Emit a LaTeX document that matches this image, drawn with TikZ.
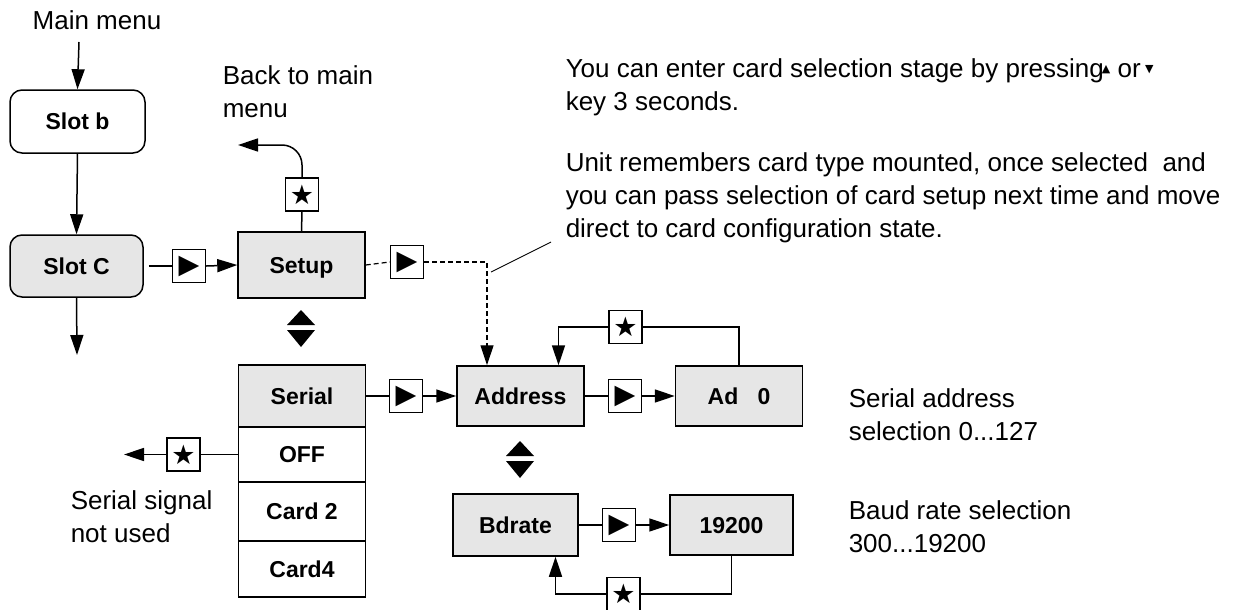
\documentclass[tikz,border=0pt]{standalone}
\usepackage{fontspec}
\setmainfont{Liberation Sans}
\newfontfamily\dejavu{DejaVu Sans}
\usepackage{tikz}
\usetikzlibrary{arrows.meta}
\definecolor{boxgray}{HTML}{E6E6E6}

\tikzset{
	menubox/.style={draw, line width=1.5pt, minimum width=127pt, minimum height=62pt, inner sep=0pt,
		text height=16.5pt, text depth=0pt, font=\fontsize{23}{27}\selectfont\bfseries},
	graybox/.style={menubox, fill=boxgray},
	keybox/.style={draw, fill=white, line width=1.4pt, minimum width=33pt, minimum height=33pt, inner sep=0pt,
		font=\dejavu\fontsize{27}{27}\selectfont},
	note/.style={align=left, inner sep=0pt, font=\fontsize{26}{33}\selectfont},
	arr/.style={-{Triangle[length=20pt,width=13pt]}},
	dashline/.style={dash pattern=on 5pt off 3pt, line width=1.2pt},
	updown/.pic={
		\fill (-14,-2.5) -- (14,-2.5) -- (0,-17.5) -- cycle;
		\fill (-14,2.5) -- (14,2.5) -- (0,19.5) -- cycle;}
}

\begin{document}
\begin{tikzpicture}[x=1pt,y=-1pt,line width=1.5pt]
	\useasboundingbox (0,0) rectangle (1247,610);

	% left column
	\node[note] (mainmenu) at (97,20) {Main menu};
	\coordinate (menuin) at (79,42);
	\node[menubox, rounded corners=12pt, minimum width=135pt, minimum height=63pt] (slotb) at (77.5,121.5) {Slot b};
	\node[graybox, rounded corners=12pt, minimum width=133pt] (slotc) at (76.5,266) {Slot C};
	\coordinate (slotout) at (77,355);

	% setup and its card list
	\node[graybox, minimum height=66pt] (setup) at (301.5,265) {Setup};
	\node[keybox] (keyA) at (189,266) {▶};
	\node[keybox] (keyB) at (302,194.5) {★};
	\coordinate (backend) at (238,145);
	\node[note, anchor=north west] (backtxt) at (222,65) {Back to main\\menu};
	\node[keybox] (keyC) at (407,262) {▶};
	\coordinate (dcorner) at (487,262);
	\pic at (301,327.5) {updown};

	\node[graybox] (serial) at (302,396) {Serial};
	\node[menubox, minimum height=55pt] (off) at (302,454.5) {OFF};
	\node[menubox, minimum height=59pt] (card2) at (302,511.5) {Card 2};
	\node[menubox, minimum height=56pt] (card4) at (302,569) {Card4};
	\node[keybox] (keyG) at (183.5,454.5) {★};
	\coordinate (offend) at (124,454.5);
	\node[note, anchor=north west] (offtxt) at (70,490) {Serial signal\\not used};

	% address
	\node[keybox] (keyD) at (406,396) {▶};
	\node[graybox, minimum height=60pt] (address) at (520.5,396) {Address};
	\node[keybox] (keyE) at (625,396) {▶};
	\node[graybox, minimum height=60pt] (ad0) at (739,396) {Ad~~~0};
	\node[keybox] (keyF) at (625.5,327) {★};
	\node[note, anchor=north west] (adtxt) at (848,388) {Serial address\\selection 0...127};
	\pic at (520,458.5) {updown};

	% baud rate
	\node[graybox, minimum width=125pt] (bdrate) at (515.5,525) {Bdrate};
	\node[keybox] (keyH) at (619,525) {▶};
	\node[graybox, minimum width=123pt, minimum height=60pt] (baud) at (731.5,525) {19200};
	\node[keybox] (keyI) at (623.5,594) {★};
	\node[note, anchor=north west] (bdtxt) at (848,500) {Baud rate selection\\300...19200};

	% notes at top right
	\node[note, anchor=north west] (keytxt) at (565,58) {You can enter card selection stage by pressing\kern-2pt{\dejavu\fontsize{11}{11}\selectfont\raisebox{5pt}{▲}} or\,{\dejavu\fontsize{11}{11}\selectfont\raisebox{5pt}{▼}}\\key 3 seconds.};
	\node[note, anchor=north west] (unittxt) at (565,152) {Unit remembers card type mounted, once selected~ and\\you can pass selection of card setup next time and move\\direct to card configuration state.};
	\coordinate (ptrA) at (491,272);
	\coordinate (ptrB) at (551,242);

	% connectors
	\draw[arr] (menuin) -- (slotb.north);
	\draw[arr] (slotb.south) -- (slotc.north);
	\draw[arr] (slotc.south) -- (slotout);
	\draw[shorten <=5pt] (slotc.east) -- (keyA.west);
	\draw[arr] (keyA.east) -- (setup.west);
	\draw (setup.north) -- (keyB.south);
	\draw[arr, rounded corners=20pt] (keyB.north) |- (backend);
	\draw[dashline] (setup.east) -- (keyC.west);
	\draw[arr, dashline] (keyC.east) -- (dcorner) -- (dcorner |- address.north);
	\draw[line width=0.9pt] (ptrA) -- (ptrB);
	\draw (serial.east) -- (keyD.west);
	\draw[arr] (keyD.east) -- (address.west);
	\draw (off.west) -- (keyG.east);
	\draw[arr] (keyG.west) -- (offend);
	\draw (address.east) -- (keyE.west);
	\draw[arr] (keyE.east) -- (ad0.west);
	\draw (ad0.north) |- (keyF.east);
	\draw[arr] (keyF.west) -| ([xshift=38pt]address.north);
	\draw (bdrate.east) -- (keyH.west);
	\draw[arr] (keyH.east) -- (baud.west);
	\draw (baud.south) |- (keyI.east);
	\draw[arr] (keyI.west) -| ([xshift=40pt]bdrate.south);
\end{tikzpicture}
\end{document}
